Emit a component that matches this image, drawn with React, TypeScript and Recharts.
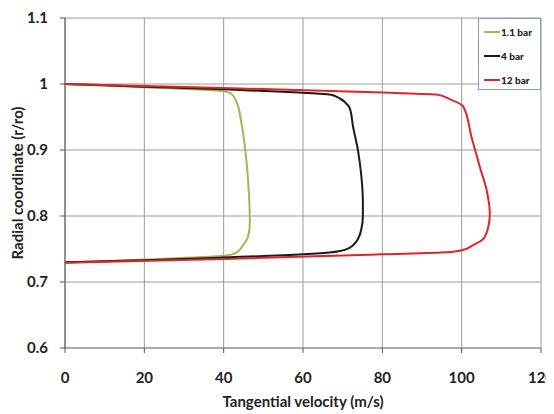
import React from 'react';
import { LineChart, Line, XAxis, YAxis, CartesianGrid, Legend, Label } from 'recharts';

const xTicks = [0, 20, 40, 60, 80, 100, 120];
const yTicks = [0.6, 0.7, 0.8, 0.9, 1.0, 1.1];

const seriesNames = ['1.1 bar', '4 bar', '12 bar'];
const seriesColors = ['#9bbb59', '#1a1a1a', '#e0242b'];

const vel11 = [0, 20, 39.8, 42, 43.3, 44.5, 45.8, 46.4, 46.6, 46.2, 44.8, 43.3, 40.7, 20, 0];
const rad11 = [1.0, 0.995, 0.989, 0.985, 0.972, 0.94, 0.88, 0.83, 0.79, 0.77, 0.755, 0.745, 0.74, 0.734, 0.729];

const vel4 = [0, 20, 40, 59, 66.8, 69.3, 71.3, 71.8, 72.6, 73.9, 74.7, 75.1, 75.1, 74.7, 73.5, 71.8, 69.3, 67.2, 60, 40, 20, 0];
const rad4 = [1.0, 0.996, 0.992, 0.987, 0.984, 0.978, 0.968, 0.963, 0.936, 0.898, 0.861, 0.82, 0.8, 0.78, 0.762, 0.752, 0.747, 0.745, 0.742, 0.737, 0.733, 0.73];

const vel12 = [0, 40, 80, 93.7, 97, 100.4, 102.5, 104.6, 106.3, 107.1, 106.7, 105.4, 102.9, 100, 96.2, 80, 40, 0];
const rad12 = [1.0, 0.994, 0.987, 0.984, 0.977, 0.966, 0.919, 0.874, 0.839, 0.803, 0.783, 0.765, 0.756, 0.748, 0.745, 0.742, 0.735, 0.729];

const toPoints = (v: number[], r: number[]) => v.map((x, i) => ({ v: x, r: r[i] }));
const seriesData = [toPoints(vel11, rad11), toPoints(vel4, rad4), toPoints(vel12, rad12)];

const FONT = 'Lato, "Open Sans", sans-serif';

const renderLegend = () => (
  <div
    style={{
      width: 61,
      height: 70,
      border: '1px solid #7f9fc8',
      background: '#fff',
      fontFamily: FONT,
      fontWeight: 900,
      fontSize: 10,
      color: '#222',
      boxSizing: 'content-box',
      position: 'relative',
    }}
  >
    {seriesNames.map((n, i) => (
      <div
        key={n}
        style={{ position: 'absolute', left: 5, top: 7 + i * 24, display: 'flex', alignItems: 'center', height: 12 }}
      >
        <div style={{ width: 16, height: 2, background: seriesColors[i] }} />
        <span style={{ marginLeft: 1, whiteSpace: 'nowrap' }}>{n}</span>
      </div>
    ))}
  </div>
);

export default function App() {
  return (
    <LineChart width={546} height={406} margin={{ top: 10, right: 13, bottom: 0, left: 0 }}>
      <CartesianGrid stroke="#9a9a9a" strokeWidth={1} />
      <XAxis
        type="number"
        dataKey="v"
        domain={[0, 120]}
        ticks={xTicks}
        allowDataOverflow
        height={66}
        tickSize={5}
        tickMargin={19}
        axisLine={{ stroke: '#888' }}
        tickLine={{ stroke: '#555' }}
        tick={{ fill: '#222', fontSize: 15, fontWeight: 700, fontFamily: FONT }}
      >
        <Label
          value="Tangential velocity (m/s)"
          position="insideBottom"
          offset={7}
          style={{ fill: '#222', fontSize: 15, fontWeight: 700, fontFamily: FONT }}
        />
      </XAxis>
      <YAxis
        type="number"
        dataKey="r"
        domain={[0.6, 1.1]}
        ticks={yTicks}
        allowDataOverflow
        width={57}
        tickSize={5}
        tickMargin={12}
        axisLine={{ stroke: '#555' }}
        tickLine={{ stroke: '#555' }}
        tick={{ fill: '#222', fontSize: 15, fontWeight: 700, fontFamily: FONT }}
      >
        <Label
          value="Radial coordinate (r/ro)"
          angle={-90}
          position="insideLeft"
          offset={10}
          style={{ fill: '#222', fontSize: 15, fontWeight: 700, fontFamily: FONT, textAnchor: 'middle' }}
        />
      </YAxis>
      <Legend
        layout="horizontal"
        verticalAlign="middle"
        align="center"
        content={renderLegend}
        wrapperStyle={{ position: 'absolute', left: 470, top: 10, width: 63, height: 72 }}
      />
      {seriesNames.map((n, i) => (
        <Line
          key={n}
          name={n}
          data={seriesData[i]}
          dataKey="r"
          type="monotoneY"
          stroke={seriesColors[i]}
          strokeWidth={2}
          dot={false}
          activeDot={false}
          isAnimationActive={false}
        />
      ))}
    </LineChart>
  );
}
